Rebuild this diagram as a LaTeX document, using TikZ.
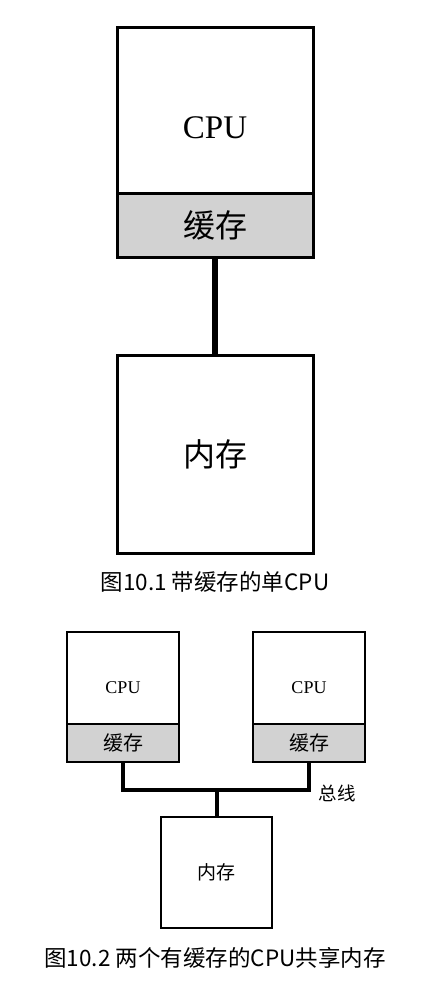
\documentclass[tikz,border=0pt]{standalone}
\usepackage{fontspec}
\setmainfont{Liberation Serif}
\newfontfamily\cjk{Noto Sans CJK SC}
\usetikzlibrary{arrows.meta,positioning,calc}

\begin{document}
\begin{tikzpicture}[
  x=1pt, y=-1pt,
  bigbox/.style={draw, line width=3pt, minimum width=196pt, inner sep=0pt},
  smallbox/.style={draw, line width=1.4pt, minimum width=112pt, inner sep=0pt},
  cachefill/.style={fill=gray!35},
  link/.style={line width=6pt},
  bus/.style={line width=4pt},
  caption/.style={font=\cjk\fontsize{22.5}{26}\selectfont}
]
\useasboundingbox (0,0) rectangle (430,999);

% single CPU with cache
\node[bigbox, minimum height=166pt] (cpu) at (215,110) {};
\node[font=\fontsize{33}{36}\selectfont] (cputext) at (215,128) {CPU};
\node[bigbox, cachefill, minimum height=64pt, font=\cjk\fontsize{32}{36}\selectfont] (cache) at (215,225) {缓存};
\node[bigbox, minimum height=198pt, font=\cjk\fontsize{32}{36}\selectfont] (mem) at (215,454) {内存};
\draw[link] (cache.south) -- (mem.north);
\node[caption] (capa) at (215,582) {图10.1 带缓存的单CPU};

% two CPUs sharing memory
\node[smallbox, minimum height=92pt] (cpua) at (123,678) {};
\node[font=\fontsize{18}{21}\selectfont] (cpuatext) at (123,688) {CPU};
\node[smallbox, cachefill, minimum height=38pt, font=\cjk\fontsize{20}{23}\selectfont] (cachea) at (123,743) {缓存};
\node[smallbox, minimum height=92pt] (cpub) at (309,678) {};
\node[font=\fontsize{18}{21}\selectfont] (cpubtext) at (309,688) {CPU};
\node[smallbox, cachefill, minimum height=38pt, font=\cjk\fontsize{20}{23}\selectfont] (cacheb) at (309,743) {缓存};
\node[smallbox, minimum width=111pt, minimum height=111pt, font=\cjk\fontsize{19}{22}\selectfont] (mem2) at (216.5,872.5) {内存};
\coordinate (join) at (216.5,790);
\draw[bus, line join=miter] (cachea.south) |- (join) -| (cacheb.south);
\draw[bus] (join) -- (mem2.north);
\node[font=\cjk\fontsize{18.5}{21}\selectfont] (buslabel) at (337,793) {总线};
\node[caption] (capb) at (215,958) {图10.2 两个有缓存的CPU共享内存};
\end{tikzpicture}
\end{document}
